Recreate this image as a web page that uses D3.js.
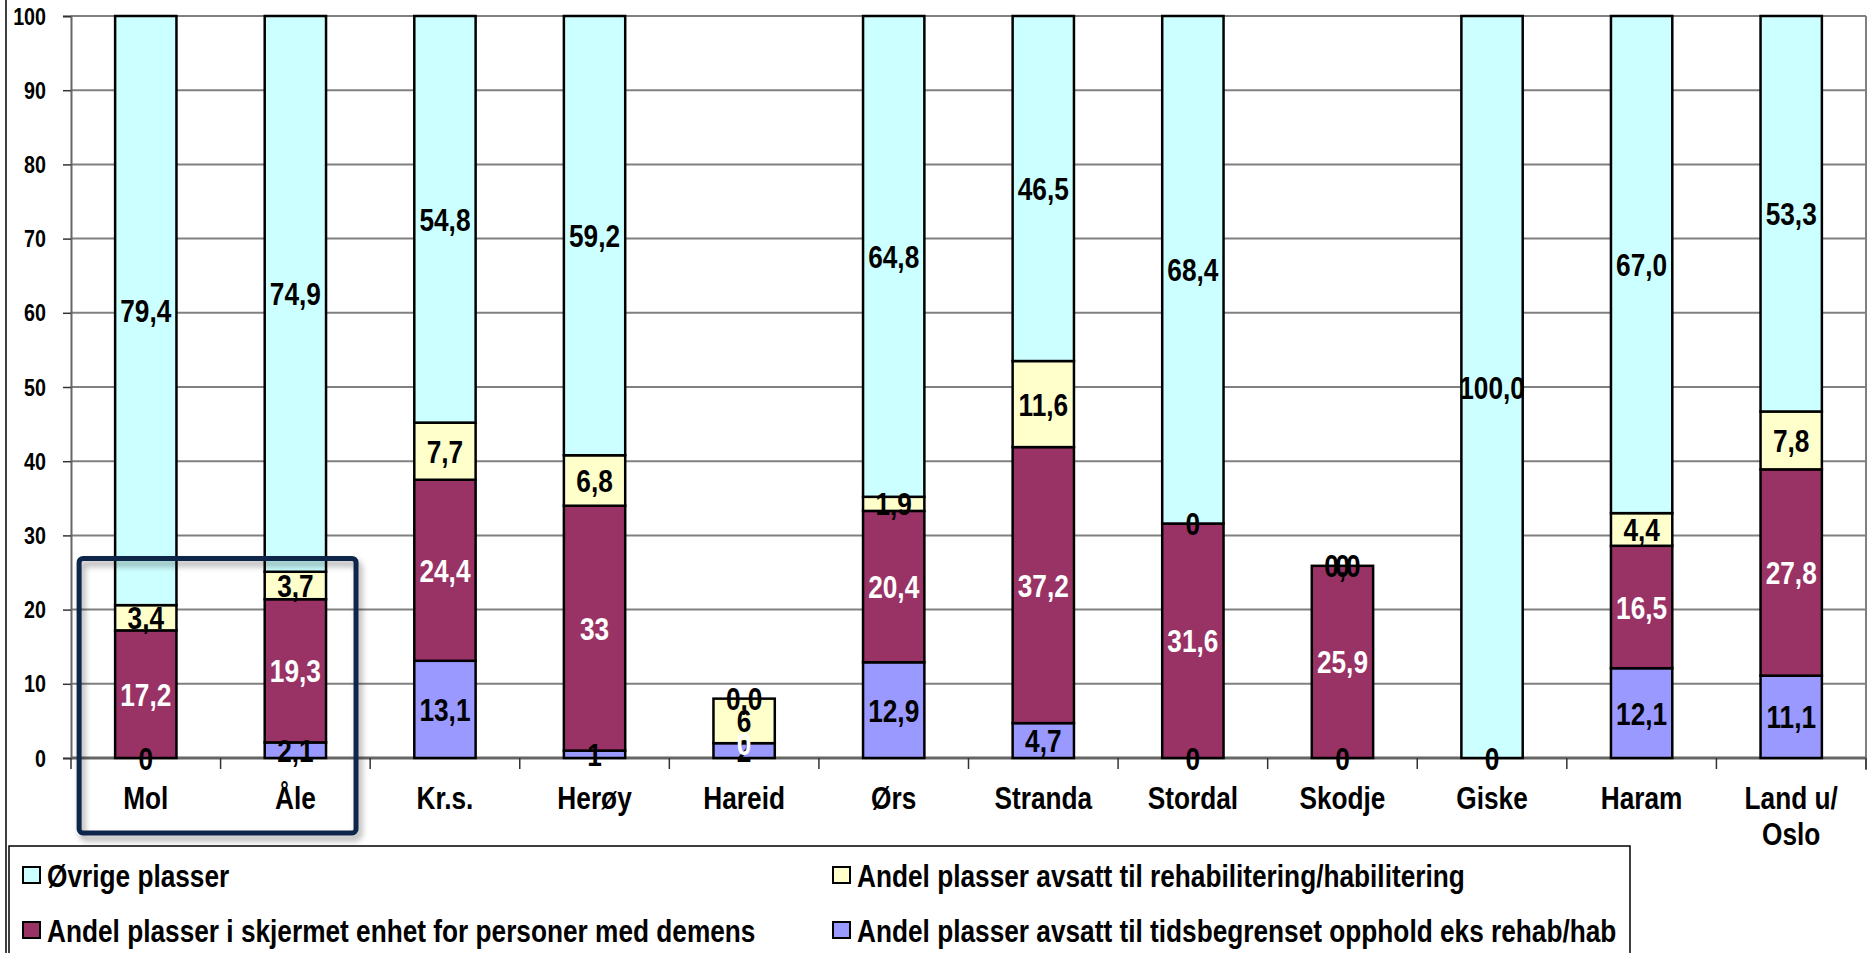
<!DOCTYPE html>
<html>
<head>
<meta charset="utf-8">
<script src="https://cdn.jsdelivr.net/npm/d3@7"></script>
<style>
  html, body { margin: 0; padding: 0; background: #fff; }
  svg { display: block; }
  text { font-family: "Liberation Sans", Arial, sans-serif; font-weight: bold; }
</style>
</head>
<body>
<svg id="chart" width="1868" height="953"></svg>
<script>
// ---- data ----
const categories = ["Mol", "Åle", "Kr.s.", "Herøy", "Hareid", "Ørs", "Stranda", "Stordal", "Skodje", "Giske", "Haram", "Land u/\nOslo"];
const seriesNames = [
  "Andel plasser avsatt til tidsbegrenset opphold eks rehab/hab",
  "Andel plasser i skjermet enhet for personer med demens",
  "Andel plasser avsatt til rehabilitering/habilitering",
  "Øvrige plasser"
];
const tidsbegrenset = [0, 2.1, 13.1, 1, 2, 12.9, 4.7, 0, 0, 0, 12.1, 11.1];
const demens        = [17.2, 19.3, 24.4, 33, 0, 20.4, 37.2, 31.6, 25.9, 0, 16.5, 27.8];
const rehab         = [3.4, 3.7, 7.7, 6.8, 6, 1.9, 11.6, 0, 0, 0, 4.4, 7.8];
const ovrige        = [79.4, 74.9, 54.8, 59.2, 0, 64.8, 46.5, 68.4, 0, 100, 67.0, 53.3];

const tidsLabels   = ["0", "2,1", "13,1", "1", "2", "12,9", "4,7", "0", "0", "0", "12,1", "11,1"];
const demensLabels = ["17,2", "19,3", "24,4", "33", "0", "20,4", "37,2", "31,6", "25,9", "", "16,5", "27,8"];
const rehabLabels  = ["3,4", "3,7", "7,7", "6,8", "6", "1,9", "11,6", "0", "0", "", "4,4", "7,8"];
const ovrigeLabels = ["79,4", "74,9", "54,8", "59,2", "0,0", "64,8", "46,5", "68,4", "0,0", "100,0", "67,0", "53,3"];

const yTicks = [0, 10, 20, 30, 40, 50, 60, 70, 80, 90, 100];
const highlighted = ["Mol", "Åle"];

// ---- styles ----
const colors = ["#9999FF", "#993366", "#FFFFCC", "#CCFFFF"];
const labelColors = ["#000", "#fff", "#000", "#000"];
const SX = 0.82; // horizontal condensing (narrow font look)

const keys = ["tids", "demens", "rehab", "ovrige"];
const valueArrays = [tidsbegrenset, demens, rehab, ovrige];
const labelArrays = [tidsLabels, demensLabels, rehabLabels, ovrigeLabels];

const table = categories.map((c, i) => {
  const row = { cat: c, idx: i };
  keys.forEach((k, j) => row[k] = valueArrays[j][i]);
  return row;
});

const svg = d3.select("#chart");
const plot = { left: 71, right: 1866, top: 16, bottom: 758 };

const x = d3.scaleBand().domain(categories).range([plot.left, plot.right]).paddingInner(0.59).paddingOuter(0.295);
const y = d3.scaleLinear().domain([0, 100]).range([plot.bottom, plot.top]);

// defs: shadow
const defs = svg.append("defs");
const f = defs.append("filter").attr("id", "shadow").attr("x", "-10%").attr("y", "-10%").attr("width", "130%").attr("height", "130%");
f.append("feDropShadow").attr("dx", 3).attr("dy", 5).attr("stdDeviation", 3).attr("flood-color", "#000").attr("flood-opacity", 0.35);

// outer left border
svg.append("line").attr("x1", 6).attr("x2", 6).attr("y1", 0).attr("y2", 953).attr("stroke", "#000").attr("stroke-width", 1.5);

// gridlines
svg.append("g").selectAll("line").data(yTicks.filter(d => d > 0)).join("line")
  .attr("x1", plot.left).attr("x2", plot.right)
  .attr("y1", d => y(d)).attr("y2", d => y(d))
  .attr("stroke", "#808080").attr("stroke-width", 2);
// right border of plot
svg.append("line").attr("x1", plot.right).attr("x2", plot.right).attr("y1", y(100)).attr("y2", y(0) + 12)
  .attr("stroke", "#808080").attr("stroke-width", 2);

// y axis
const yAxis = svg.append("g").attr("transform", `translate(${plot.left},0)`)
  .call(d3.axisLeft(y).tickValues(yTicks).tickSize(8).tickFormat(""));
yAxis.select(".domain").attr("stroke", "#666").attr("stroke-width", 2);
yAxis.selectAll(".tick line").attr("stroke", "#333").attr("stroke-width", 1.5);
svg.append("g").selectAll("text").data(yTicks).join("text")
  .attr("transform", d => `translate(${plot.left - 25},${y(d)}) scale(${SX},1)`)
  .attr("dy", "0.36em").attr("text-anchor", "end")
  .attr("font-size", 24).attr("fill", "#000")
  .text(d => d3.format("d")(d));

// x axis line and ticks
const boundaries = d3.range(categories.length + 1).map(i => plot.left + i * x.step());
svg.append("line").attr("x1", plot.left).attr("x2", plot.right).attr("y1", y(0)).attr("y2", y(0))
  .attr("stroke", "#666").attr("stroke-width", 3);
svg.append("g").selectAll("line").data(boundaries).join("line")
  .attr("x1", d => d).attr("x2", d => d).attr("y1", y(0)).attr("y2", y(0) + 11)
  .attr("stroke", "#333").attr("stroke-width", 1.5);

// stacked bars
const stack = d3.stack().keys(keys);
const stacked = stack(table);

const layers = svg.append("g").selectAll("g").data(stacked).join("g")
  .attr("fill", (d, i) => colors[i]);
layers.selectAll("rect").data(d => d.filter(s => s[1] - s[0] > 0)).join("rect")
  .attr("x", d => x(d.data.cat))
  .attr("width", x.bandwidth())
  .attr("y", d => y(d[1]))
  .attr("height", d => y(d[0]) - y(d[1]))
  .attr("stroke", "#000").attr("stroke-width", 2.5);

// labels
const labelG = svg.append("g");
stacked.forEach((layer, li) => {
  labelG.append("g").selectAll("text").data(layer).join("text")
    .attr("transform", d => `translate(${x(d.data.cat) + x.bandwidth() / 2},${y((d[0] + d[1]) / 2)}) scale(${SX},1)`)
    .attr("dy", "0.36em")
    .attr("text-anchor", "middle")
    .attr("font-size", 32)
    .attr("fill", labelColors[li])
    .text(d => labelArrays[li][d.data.idx]);
});

// category labels
const catG = svg.append("g");
catG.selectAll("text").data(categories).join("text")
  .attr("text-anchor", "middle")
  .attr("font-size", 32)
  .attr("fill", "#000")
  .attr("transform", d => `translate(${x(d) + x.bandwidth() / 2},${y(0) + 39}) scale(${SX},1)`)
  .each(function(d) {
    const lines = d.split("\n");
    d3.select(this).selectAll("tspan").data(lines).join("tspan")
      .attr("x", 0).attr("dy", (l, i) => i === 0 ? "0.36em" : "1.15em").text(l => l);
  });

// highlight box around Mol and Åle
const hx0 = x(highlighted[0]) - 36;
const hx1 = x(highlighted[highlighted.length - 1]) + x.bandwidth() + 30;
const hy0 = y(26.9), hy1 = 833;
svg.append("rect")
  .attr("x", hx0).attr("y", hy0)
  .attr("width", hx1 - hx0).attr("height", hy1 - hy0)
  .attr("rx", 4)
  .attr("fill", "none").attr("stroke", "#10264A").attr("stroke-width", 5)
  .attr("filter", "url(#shadow)");

// legend
const legend = svg.append("g");
legend.append("rect").attr("x", 9).attr("y", 846).attr("width", 1621).attr("height", 120)
  .attr("fill", "#fff").attr("stroke", "#000").attr("stroke-width", 1.5);
const legendOrder = [3, 2, 1, 0];
const legendPos = [[23, 875], [833, 875], [23, 930], [833, 930]];
legendOrder.forEach((si, k) => {
  const [lx, ly] = legendPos[k];
  legend.append("rect").attr("x", lx).attr("y", ly - 8).attr("width", 17).attr("height", 16)
    .attr("fill", colors[si]).attr("stroke", "#000").attr("stroke-width", 2);
  legend.append("text")
    .attr("transform", `translate(${lx + 24},${ly}) scale(${SX},1)`)
    .attr("dy", "0.36em")
    .attr("font-size", 32).attr("fill", "#000").text(seriesNames[si]);
});
</script>
</body>
</html>
